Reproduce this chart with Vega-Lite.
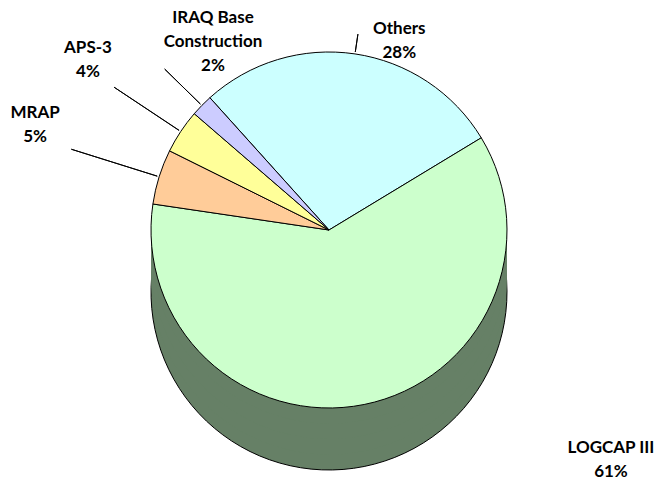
{
  "$schema": "https://vega.github.io/schema/vega-lite/v6.json",
  "width": 658,
  "height": 460,
  "autosize": {"type": "none"},
  "padding": {"left": 0, "right": 0, "top": 0, "bottom": 21},
  "background": "white",
  "view": {"stroke": null},
  "data": {
    "values": [
      {"seq": 1, "label": "Others", "share": 0.28},
      {"seq": 2, "label": "LOGCAP III", "share": 0.61},
      {"seq": 3, "label": "MRAP", "share": 0.05},
      {"seq": 4, "label": "APS-3", "share": 0.04},
      {"seq": 5, "label": "IRAQ Base\nConstruction", "share": 0.02}
    ]
  },
  "encoding": {
    "theta": {"field": "share", "type": "quantitative", "stack": true, "scale": {"range": [-0.7330, 5.5502]}},
    "order": {"field": "seq", "type": "quantitative"}
  },
  "layer": [
    {
      "mark": {"type": "arc", "radius": 178, "yOffset": 62, "fill": "#668066", "stroke": "#000000", "strokeWidth": 1}
    },
    {
      "mark": {"type": "arc", "radius": 178, "yOffset": 46.5, "fill": "#668066", "strokeWidth": 0}
    },
    {
      "mark": {"type": "arc", "radius": 178, "yOffset": 31, "fill": "#668066", "strokeWidth": 0}
    },
    {
      "mark": {"type": "arc", "radius": 178, "yOffset": 15.5, "fill": "#668066", "strokeWidth": 0}
    },
    {
      "mark": {"type": "arc", "radius": 178, "stroke": "#000000", "strokeWidth": 1},
      "encoding": {
        "color": {
          "field": "label", "type": "nominal", "legend": null,
          "scale": {
            "domain": ["Others", "LOGCAP III", "MRAP", "APS-3", "IRAQ Base\nConstruction"],
            "range": ["#CCFFFF", "#CCFFCC", "#FFCC99", "#FFFF99", "#CCCCFF"]
          }
        }
      }
    },
    {
      "mark": {"type": "arc", "radius2": 180, "radius": 198, "padAngle": 3.1, "fillOpacity": 0, "stroke": "#000000", "strokeWidth": 1},
      "encoding": {"strokeOpacity": {"condition": {"test": "datum.seq === 1", "value": 1}, "value": 0}}
    },
    {
      "mark": {"type": "arc", "radius2": 180, "radius": 270, "padAngle": 3.1, "fillOpacity": 0, "stroke": "#000000", "strokeWidth": 1},
      "encoding": {"strokeOpacity": {"condition": {"test": "datum.seq === 3", "value": 1}, "value": 0}}
    },
    {
      "mark": {"type": "arc", "radius2": 180, "radius": 258, "padAngle": 3.1, "fillOpacity": 0, "stroke": "#000000", "strokeWidth": 1},
      "encoding": {"strokeOpacity": {"condition": {"test": "datum.seq === 4", "value": 1}, "value": 0}}
    },
    {
      "mark": {"type": "arc", "radius2": 180, "radius": 230, "padAngle": 3.1, "fillOpacity": 0, "stroke": "#000000", "strokeWidth": 1},
      "encoding": {"strokeOpacity": {"condition": {"test": "datum.seq === 5", "value": 1}, "value": 0}}
    },
    {
      "mark": {"type": "text", "radius": 180, "dx": 44, "dy": -22.9, "font": "Lato", "fontWeight": "bold", "fontSize": 17, "lineBreak": "\n", "lineHeight": 24, "align": "center", "baseline": "middle",
        "text": {"expr": "datum.label + '\\n' + format(datum.share, '.0%')"}},
      "encoding": {"opacity": {"condition": {"test": "datum.seq === 1", "value": 1}, "value": 0}}
    },
    {
      "mark": {"type": "text", "radius": 180, "dx": 246.4, "dy": 41.5, "font": "Lato", "fontWeight": "bold", "fontSize": 17, "lineBreak": "\n", "lineHeight": 24, "align": "center", "baseline": "middle",
        "text": {"expr": "datum.label + '\\n' + format(datum.share, '.0%')"}},
      "encoding": {"opacity": {"condition": {"test": "datum.seq === 2", "value": 1}, "value": 0}}
    },
    {
      "mark": {"type": "text", "radius": 180, "dx": -122.2, "dy": -63.2, "font": "Lato", "fontWeight": "bold", "fontSize": 17, "lineBreak": "\n", "lineHeight": 24, "align": "center", "baseline": "middle",
        "text": {"expr": "datum.label + '\\n' + format(datum.share, '.0%')"}},
      "encoding": {"opacity": {"condition": {"test": "datum.seq === 3", "value": 1}, "value": 0}}
    },
    {
      "mark": {"type": "text", "radius": 180, "dx": -91.1, "dy": -82.4, "font": "Lato", "fontWeight": "bold", "fontSize": 17, "lineBreak": "\n", "lineHeight": 24, "align": "center", "baseline": "middle",
        "text": {"expr": "datum.label + '\\n' + format(datum.share, '.0%')"}},
      "encoding": {"opacity": {"condition": {"test": "datum.seq === 4", "value": 1}, "value": 0}}
    },
    {
      "mark": {"type": "text", "radius": 180, "dx": 12.6, "dy": -86.1, "font": "Lato", "fontWeight": "bold", "fontSize": 17, "lineBreak": "\n", "lineHeight": 24, "align": "center", "baseline": "middle",
        "text": {"expr": "datum.label + '\\n' + format(datum.share, '.0%')"}},
      "encoding": {"opacity": {"condition": {"test": "datum.seq === 5", "value": 1}, "value": 0}}
    }
  ]
}
